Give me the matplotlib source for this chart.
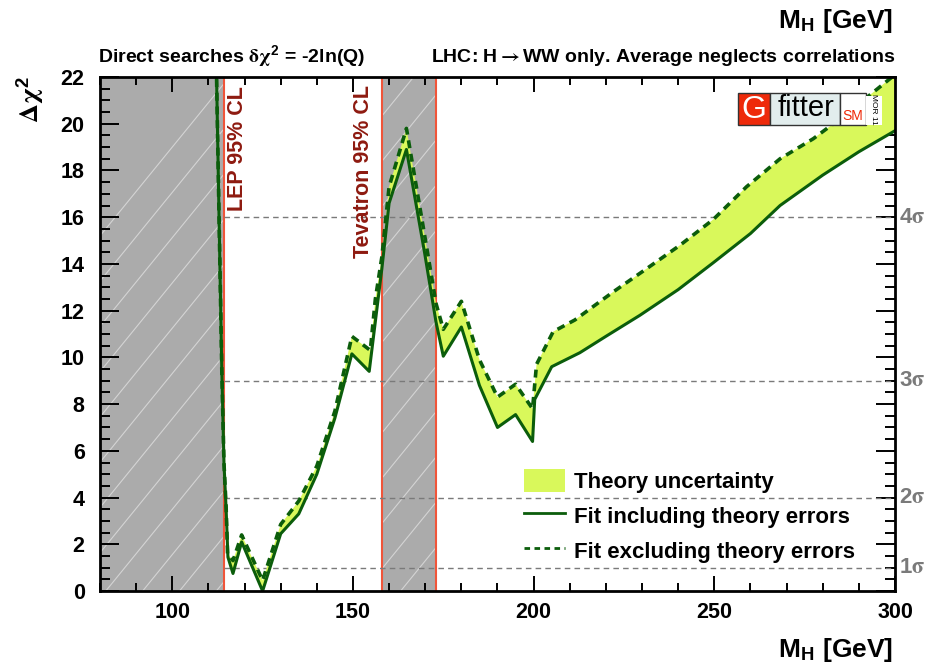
import numpy as np
import matplotlib
matplotlib.use("Agg")
import matplotlib.pyplot as plt
from matplotlib.patches import Rectangle, Patch
from matplotlib.lines import Line2D

plt.rcParams['font.family'] = ['Liberation Sans', 'DejaVu Sans']
plt.rcParams['font.weight'] = 'bold'
plt.rcParams['mathtext.fontset'] = 'custom'
plt.rcParams['mathtext.rm'] = 'STIXGeneral'
plt.rcParams['mathtext.it'] = 'STIXGeneral:italic'
plt.rcParams['mathtext.bf'] = 'Liberation Sans:bold'

# Fit including theory errors (solid line)
mh_incl = [112.2, 113.0, 113.7, 114.3, 114.9, 115.4, 116.8, 119.2, 125.0, 130.0,
           135.0, 140.0, 145.0, 149.7, 154.5, 158.0, 160.0, 164.8, 169.8, 173.0,
           175.0, 180.0, 185.0, 190.0, 195.0, 199.7, 200.3, 205.0, 212.8, 220.0,
           229.4, 240.0, 249.7, 260.0, 268.2, 280.0, 290.0, 300.0]
chi2_incl = [22.5, 15.5, 9.5, 5.5, 3.5, 1.45, 0.75, 2.1, 0.0, 2.45,
             3.3, 5.0, 7.4, 10.15, 9.4, 13.8, 16.6, 18.9, 14.5, 11.5,
             10.05, 11.3, 8.8, 7.0, 7.55, 6.4, 8.2, 9.6, 10.2, 10.9,
             11.8, 12.9, 14.05, 15.3, 16.5, 17.8, 18.8, 19.7]

# Fit excluding theory errors (dashed line)
mh_excl = [112.2, 113.0, 113.7, 114.3, 114.9, 115.3, 116.8, 119.2, 125.0, 130.0,
           135.0, 140.0, 145.0, 149.7, 154.8, 156.2, 158.0, 160.0, 164.8, 170.3,
           173.0, 175.0, 180.0, 185.0, 190.0, 195.0, 199.7, 200.8, 205.4, 211.4,
           222.0, 231.3, 240.5, 249.7, 258.9, 268.2, 277.4, 283.8, 292.0, 300.0]
chi2_excl = [22.5, 15.5, 9.5, 5.5, 3.6, 1.6, 1.3, 2.4, 0.45, 2.85,
             3.85, 5.35, 7.7, 10.9, 10.3, 12.5, 14.3, 17.3, 19.8, 14.8,
             12.3, 11.2, 12.4, 9.9, 8.3, 8.85, 7.8, 9.7, 11.1, 11.6,
             12.8, 13.8, 14.8, 15.9, 17.3, 18.5, 19.36, 20.1, 21.1, 22.1]

lep_limit = 114.4
tev_excl = (158.0, 173.0)
sigma_levels = [1, 4, 9, 16]
sigma_labels = ['1$\\mathrm{\\sigma}$', '2$\\mathrm{\\sigma}$',
                '3$\\mathrm{\\sigma}$', '4$\\mathrm{\\sigma}$']

W, H = 935, 667
fig = plt.figure(figsize=(W / 100, H / 100), dpi=100)
ax = fig.add_axes([100 / W, 1 - 591 / H, 795 / W, 514 / H])
ax.set_xlim(80, 300)
ax.set_ylim(0, 22)

def fx(px):
    return px / W

def fy(py):
    return 1 - py / H

# excluded regions (grey, with sparse white hatching)
gray = '#ababab'
regions = [Rectangle((80, 0), lep_limit - 80, 22, facecolor=gray, edgecolor='none', zorder=1),
           Rectangle((tev_excl[0], 0), tev_excl[1] - tev_excl[0], 22, facecolor=gray,
                     edgecolor='none', zorder=1)]
slope = 0.19
for r in regions:
    ax.add_patch(r)
    for x0 in np.arange(0, 180, 10.2):
        ln, = ax.plot([x0, x0 + 24 / slope], [0, 24], color='#d4d4d4', lw=0.8, zorder=1.5)
        ln.set_clip_path(r)

red = '#f0553a'
for xv in [lep_limit, tev_excl[0], tev_excl[1]]:
    ax.axvline(xv, color=red, lw=1.5, zorder=2)

for lv in sigma_levels:
    ax.hlines(lv, lep_limit, 300, colors='#7a7a7a', linestyles=(0, (4, 3)), lw=1.0, zorder=2)

# theory band between the two fits
band_color = '#d9f85b'
ax.fill(np.concatenate([mh_incl, mh_excl[::-1]]),
        np.concatenate([chi2_incl, chi2_excl[::-1]]),
        color=band_color, lw=0, zorder=3)
green = '#0b5d0b'
ax.plot(mh_incl, chi2_incl, color=green, lw=2.2, zorder=4)
ax.plot(mh_excl, chi2_excl, color=green, lw=2.6, ls=(0, (2.2, 1.6)), zorder=4)

# axes styling (ROOT look)
ax.set_xticks([100, 150, 200, 250, 300])
ax.set_xticks(np.arange(80, 301, 10), minor=True)
ax.set_yticks(np.arange(0, 23, 2))
ax.set_yticks(np.arange(0, 22.1, 0.5), minor=True)
ax.tick_params(axis='both', which='both', direction='in', top=True, right=True,
               width=1.4, labelsize=15.5)
ax.tick_params(axis='x', which='major', length=11, pad=8)
ax.tick_params(axis='x', which='minor', length=5.5)
ax.tick_params(axis='y', which='major', length=14, pad=11)
ax.tick_params(axis='y', which='minor', length=7)
for s in ax.spines.values():
    s.set_linewidth(2)
    s.set_zorder(6)

# texts
ax.text(lep_limit + 3.6, 21.6, 'LEP 95% CL', rotation=90, ha='center',
        va='top', color='#8e1a10', fontsize=15.5)
ax.text(tev_excl[0] - 5.2, 21.65, 'Tevatron 95% CL', rotation=90, ha='center',
        va='top', color='#8e1a10', fontsize=15.5)

for lv, lab in zip(sigma_levels, sigma_labels):
    fig.text(fx(899), fy(591 - lv * 514 / 22), lab, color='#7a7a7a', fontsize=16,
             ha='left', va='center')

fig.text(fx(98), fy(57), 'Direct searches $\\mathrm{\\delta\\chi}^{\\mathbf{2}}$ = -2ln(Q)',
         fontsize=14, ha='left', va='center')
fig.text(fx(895), fy(57), 'LHC: H$\\mathrm{\\rightarrow}$WW only. Average neglects correlations',
         fontsize=14, ha='right', va='center')
fig.text(fx(893), fy(21), 'M$_{\\mathbf{H}}$ [GeV]', fontsize=19, ha='right', va='center')
fig.text(fx(893), fy(650), 'M$_{\\mathbf{H}}$ [GeV]', fontsize=19, ha='right', va='center')
fig.text(fx(30), fy(76), '$\\mathrm{\\Delta\\chi}^{\\mathbf{2}}$', fontsize=19, rotation=90,
         ha='center', va='top', fontweight='normal')

# legend
handles = [Patch(facecolor=band_color, edgecolor='none'),
           Line2D([], [], color=green, lw=2),
           Line2D([], [], color=green, lw=2, ls=(0, (2, 1.6)))]
labels = ['Theory uncertainty', 'Fit including theory errors', 'Fit excluding theory errors']
ax.legend(handles, labels, loc='upper left', bbox_to_anchor=(fx(524), fy(469)),
          bbox_transform=fig.transFigure, frameon=False, borderpad=0, borderaxespad=0,
          handlelength=1.85, handleheight=1.2, handletextpad=0.4, labelspacing=0.5,
          prop={'weight': 'bold', 'size': 16})

# Gfitter logo
def box(x0, x1, y0, y1, fc):
    fig.add_artist(Rectangle((fx(x0), fy(y1)), fx(x1) - fx(x0), fy(y0) - fy(y1),
                             transform=fig.transFigure, facecolor=fc, edgecolor='#333333',
                             lw=1, zorder=10))

box(738, 770, 93, 125, '#ee2a0a')
box(770, 840, 93, 125, '#e2eded')
box(840, 866, 93, 125, 'white')
fig.add_artist(Rectangle((fx(866), fy(125)), fx(882) - fx(866), fy(96) - fy(125),
                         transform=fig.transFigure, facecolor='white', edgecolor='none',
                         zorder=10))
fig.text(fx(754), fy(110), 'G', color='white', fontsize=23, fontweight='normal',
         ha='center', va='center', zorder=11)
fig.text(fx(806), fy(108), 'fitter', color='black', fontsize=21, fontweight='normal',
         ha='center', va='center', zorder=11)
fig.text(fx(853), fy(116), 'SM', color='#ee2a0a', fontsize=10, fontweight='normal',
         ha='center', va='center', zorder=11)
fig.text(fx(874), fy(109), 'MOR 11', color='black', fontsize=6, fontweight='normal',
         rotation=-90, ha='center', va='center', zorder=11)

fig.savefig('out.png', dpi=100)
